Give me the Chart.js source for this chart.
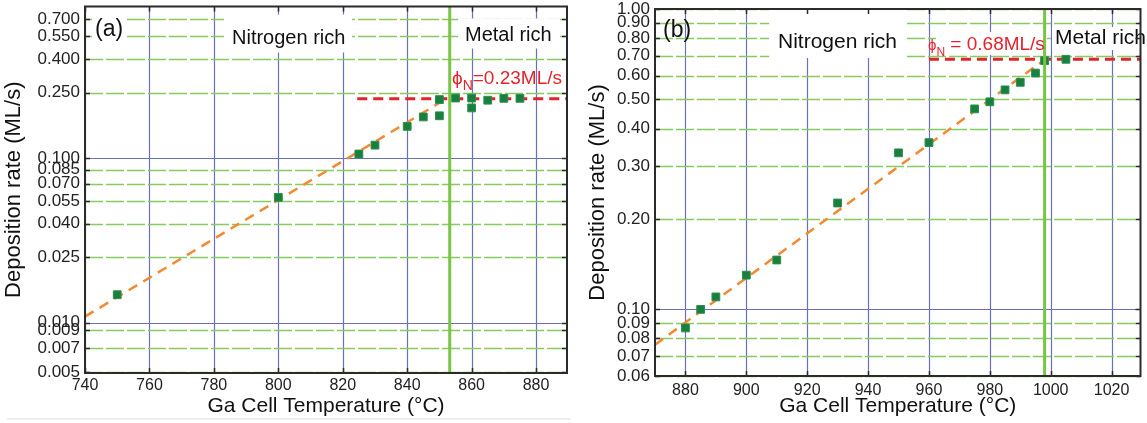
<!DOCTYPE html>
<html lang="en">
<head>
<meta charset="UTF-8">
<title>Ga cell temperature vs deposition rate</title>
<script src="https://cdn.jsdelivr.net/npm/chart.js@4"></script>
<style>
  body { margin: 0; background: #fff; width: 1147px; height: 423px; position: relative; overflow: hidden; }
  .panel { position: absolute; top: 0; height: 423px; }
  #wrapA { left: 0; width: 575px; }
  #wrapB { left: 575px; width: 572px; }
</style>
</head>
<body>
<div class="panel" id="wrapA"><canvas id="chartA"></canvas></div>
<div class="panel" id="wrapB"><canvas id="chartB"></canvas></div>
<script>
// panel (a): phi_N = 0.23 ML/s
const tempA = [750, 800, 825, 830, 840, 845, 850, 850, 855, 860, 860, 865, 870, 875];
const rateA = [0.0148, 0.0578, 0.106, 0.120, 0.156, 0.178, 0.227, 0.181, 0.232, 0.232, 0.202, 0.225, 0.231, 0.231];
const fitTempA = [740, 852.5];
const fitRateA = [0.0109, 0.232];
const fluxA = 0.23;
const fluxTempA = [824.5, 889.6];
const boundaryA = 853.2;
const xTicksA = [740, 760, 780, 800, 820, 840, 860, 880];
const yTicksA = [0.005, 0.007, 0.009, 0.010, 0.025, 0.040, 0.055, 0.070, 0.085, 0.100, 0.250, 0.400, 0.550, 0.700];
const yLabelsA = ['0.005', '0.007', '0.009', '0.010', '0.025', '0.040', '0.055', '0.070', '0.085', '0.100', '0.250', '0.400', '0.550', '0.700'];

// panel (b): phi_N = 0.68 ML/s
const tempB = [880, 885, 890, 900, 910, 930, 950, 960, 975, 980, 985, 990, 995, 998, 1005];
const rateB = [0.0867, 0.100, 0.110, 0.130, 0.146, 0.226, 0.332, 0.359, 0.465, 0.491, 0.538, 0.570, 0.612, 0.673, 0.680];
const fitTempB = [870, 1000.5];
const fitRateB = [0.0762, 0.708];
const fluxB = 0.68;
const fluxTempB = [960, 1029.5];
const boundaryB = 998;
const xTicksB = [880, 900, 920, 940, 960, 980, 1000, 1020];
const yTicksB = [0.06, 0.07, 0.08, 0.09, 0.10, 0.20, 0.30, 0.40, 0.50, 0.60, 0.70, 0.80, 0.90, 1.00];
const yLabelsB = ['0.06', '0.07', '0.08', '0.09', '0.10', '0.20', '0.30', '0.40', '0.50', '0.60', '0.70', '0.80', '0.90', '1.00'];

const FONT = "'Liberation Sans', Arial, sans-serif";
const BLUE = '#6a70bc';
const GRID_GREEN = '#86cb62';
const EDGE_GREEN = '#78c446';
const MARK = '#18803e';
const ORANGE = '#f38a33';
const RED = '#e5232b';
const FRAME = '#2b2b2b';

Chart.defaults.font.family = FONT;
Chart.defaults.color = '#1a1a1a';

// grid, label boxes, annotations, inner ticks and frame
const decor = {
  id: 'decor',
  beforeDatasetsDraw(chart, args, o) {
    const { ctx, chartArea: a, scales: { x, y } } = chart;
    ctx.save();
    ctx.lineWidth = 1.2;
    ctx.strokeStyle = BLUE;
    x.ticks.forEach(t => {
      const px = Math.round(x.getPixelForValue(t.value)) + 0.5;
      ctx.beginPath(); ctx.moveTo(px, a.top); ctx.lineTo(px, a.bottom); ctx.stroke();
    });
    y.ticks.forEach(t => {
      const py = Math.round(y.getPixelForValue(t.value)) + 0.5;
      const decade = o.decades.includes(t.value);
      ctx.strokeStyle = decade ? BLUE : GRID_GREEN;
      ctx.lineWidth = decade ? 1.2 : 1.6;
      ctx.setLineDash(decade ? [] : [18, 3]);
      ctx.beginPath(); ctx.moveTo(a.left, py); ctx.lineTo(a.right, py); ctx.stroke();
    });
    ctx.setLineDash([]);
    ctx.fillStyle = '#fff';
    o.boxes.forEach(b => ctx.fillRect(a.left + b.dx, a.top + b.dy, b.w, b.h));
    ctx.restore();
  },
  afterDatasetsDraw(chart, args, o) {
    const { ctx, chartArea: a, scales: { x, y } } = chart;
    ctx.save();
    ctx.textBaseline = 'alphabetic';
    ctx.textAlign = 'left';
    o.texts.forEach(t => {
      ctx.font = t.size + 'px ' + FONT;
      ctx.fillStyle = '#111';
      ctx.fillText(t.text, a.left + t.dx, a.top + t.dy);
    });
    // flux label: phi with subscript N
    const p = o.phi;
    let cx = a.left + p.dx;
    const base = a.top + p.dy;
    ctx.fillStyle = RED;
    ctx.font = p.phiSize + 'px ' + FONT;
    ctx.fillText('\u03d5', cx, base);
    cx += ctx.measureText('\u03d5').width;
    ctx.font = p.subSize + 'px ' + FONT;
    ctx.fillText('N', cx, base + p.subDrop);
    cx += ctx.measureText('N').width;
    ctx.font = p.size + 'px ' + FONT;
    ctx.fillText(p.text, cx, base);

    // inward ticks on all four sides
    ctx.strokeStyle = FRAME;
    ctx.lineWidth = 1.5;
    y.ticks.forEach(t => {
      const py = Math.round(y.getPixelForValue(t.value)) + 0.5;
      ctx.beginPath();
      ctx.moveTo(a.left, py); ctx.lineTo(a.left + 5, py);
      ctx.moveTo(a.right, py); ctx.lineTo(a.right - 5, py);
      ctx.stroke();
    });
    x.ticks.forEach(t => {
      const px = Math.round(x.getPixelForValue(t.value)) + 0.5;
      ctx.beginPath();
      ctx.moveTo(px, a.top); ctx.lineTo(px, a.top + 5);
      ctx.moveTo(px, a.bottom); ctx.lineTo(px, a.bottom - 5);
      ctx.stroke();
    });
    ctx.lineWidth = 2;
    ctx.strokeRect(a.left, a.top, a.right - a.left, a.bottom - a.top);
    if (o.rule) {
      ctx.strokeStyle = '#eeeeee';
      ctx.lineWidth = 2;
      ctx.beginPath(); ctx.moveTo(o.rule.x0, o.rule.y); ctx.lineTo(o.rule.x1, o.rule.y); ctx.stroke();
    }
    ctx.restore();
  }
};

function pts(xs, ys) {
  return xs.map((v, i) => ({ x: v, y: ys[i] }));
}

function buildPanel(id, p) {
  return new Chart(document.getElementById(id), {
    type: 'scatter',
    data: {
      datasets: [
        { data: [{ x: p.boundary, y: p.yMin }, { x: p.boundary, y: p.yMax }], showLine: true,
          borderColor: EDGE_GREEN, borderWidth: 3, pointRadius: 0 },
        { data: pts(p.temps, p.rates), pointStyle: 'rect', pointRadius: 5.5,
          backgroundColor: MARK, borderColor: '#2f8d4d', borderWidth: 1 },
        { data: pts(p.fitT, p.fitR), showLine: true, borderColor: ORANGE, borderWidth: 2.5,
          borderDash: [10, 7], pointRadius: 0 },
        { data: pts(p.fluxT, p.fluxT.map(() => p.flux)), showLine: true, borderColor: RED,
          borderWidth: 3, borderDash: [10, 6], pointRadius: 0 }
      ]
    },
    options: {
      responsive: true,
      maintainAspectRatio: false,
      animation: false,
      devicePixelRatio: 1,
      layout: { padding: { left: 0, right: p.padRight, top: p.padTop, bottom: 0 } },
      plugins: {
        legend: { display: false },
        tooltip: { enabled: false },
        decor: p.decor
      },
      scales: {
        x: {
          type: 'linear', min: p.xMin, max: p.xMax,
          afterBuildTicks: s => { s.ticks = p.xTicks.map(v => ({ value: v })); },
          afterFit: s => { s.height = p.xHeight; s.paddingLeft = 0; s.paddingRight = 0; },
          grid: { display: false, drawTicks: false },
          border: { display: false },
          ticks: { font: { size: 16 }, color: '#222', padding: p.xPad, maxRotation: 0, autoSkip: false,
                   callback: v => String(v) },
          title: { display: true, text: 'Ga Cell Temperature (°C)', font: { size: 21 }, color: '#111',
                   padding: { top: 0, bottom: 4 } }
        },
        y: {
          type: 'logarithmic', min: p.yMin, max: p.yMax,
          afterBuildTicks: s => { s.ticks = p.yTicks.map(v => ({ value: v })); },
          afterFit: s => { s.width = p.yWidth; s.paddingTop = 0; s.paddingBottom = 0; },
          grid: { display: false, drawTicks: false },
          border: { display: false },
          ticks: { font: { size: 17, lineHeight: 1 }, color: '#222', padding: 5, autoSkip: false,
                   callback: (v, i) => p.yLabels[i] },
          title: { display: true, text: 'Deposition rate (ML/s)', font: { size: 22 }, color: '#111',
                   padding: { top: p.titlePad, bottom: 0 } }
        }
      }
    },
    plugins: [decor]
  });
}

buildPanel('chartA', {
  temps: tempA, rates: rateA, fitT: fitTempA, fitR: fitRateA,
  flux: fluxA, fluxT: fluxTempA, boundary: boundaryA,
  xTicks: xTicksA, yTicks: yTicksA, yLabels: yLabelsA,
  xMin: 740, xMax: 889.6, yMin: 0.00495, yMax: 0.835,
  padRight: 8, padTop: 6, xHeight: 50, yWidth: 85, xPad: 3, titlePad: 1,
  decor: {
    decades: [0.01, 0.1],
    boxes: [
      { dx: 7, dy: 11, w: 35, h: 27 },
      { dx: 139, dy: 8, w: 128, h: 38 },
      { dx: 373, dy: 12, w: 102, h: 30 }
    ],
    texts: [
      { text: '(a)', dx: 10, dy: 29.5, size: 23 },
      { text: 'Nitrogen rich', dx: 147, dy: 37.5, size: 20 },
      { text: 'Metal rich', dx: 380, dy: 34, size: 20 }
    ],
    phi: { dx: 367, dy: 77, phiSize: 19, subSize: 14, subDrop: 6, size: 19,
           text: '=' + fluxA.toFixed(2) + 'ML/s' },
    rule: { x0: 7, x1: 571, y: 419 }
  }
});

buildPanel('chartB', {
  temps: tempB, rates: rateB, fitT: fitTempB, fitR: fitRateB,
  flux: fluxB, fluxT: fluxTempB, boundary: boundaryB,
  xTicks: xTicksB, yTicks: yTicksB, yLabels: yLabelsB,
  xMin: 870, xMax: 1029.5, yMin: 0.06, yMax: 1.0,
  padRight: 2, padTop: 9, xHeight: 47, yWidth: 80, xPad: 5, titlePad: 10,
  decor: {
    decades: [0.1],
    boxes: [
      { dx: 114, dy: 0, w: 137, h: 49 },
      { dx: 281, dy: 23, w: 111, h: 23 },
      { dx: 397, dy: 18, w: 95, h: 23 }
    ],
    texts: [
      { text: '(b)', dx: 8, dy: 28, size: 23 },
      { text: 'Nitrogen rich', dx: 123, dy: 39.3, size: 21 },
      { text: 'Metal rich', dx: 400, dy: 35, size: 21 }
    ],
    phi: { dx: 273, dy: 41, phiSize: 15, subSize: 12, subDrop: 6, size: 19,
           text: ' = ' + fluxB.toFixed(2) + 'ML/s' }
  }
});
</script>
</body>
</html>
